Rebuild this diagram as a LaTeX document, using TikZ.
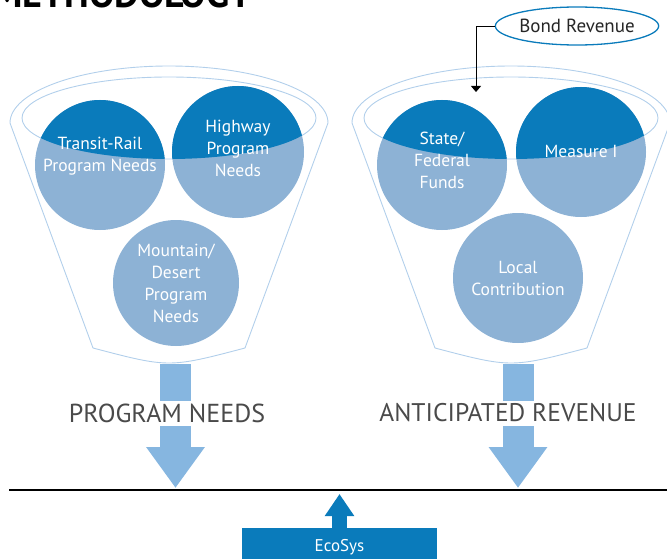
\documentclass[tikz,border=0pt]{standalone}
\usepackage{fontspec}
\setmainfont{PT Sans}
\usetikzlibrary{arrows.meta,shapes.geometric}

\definecolor{deepblue}{HTML}{0A7BBB}
\definecolor{paleblue}{HTML}{8DB2D5}
\definecolor{flowblue}{HTML}{86B6E0}
\definecolor{rimblue}{HTML}{B2CFEB}
\definecolor{tagtext}{HTML}{4A4A4A}

\tikzset{
  rim/.style={draw=rimblue, line width=0.9pt},
  % circle whose upper part sits inside the rim ellipse named #1
  need/.style={circle, fill=paleblue, inner sep=0pt, minimum size=130pt,
    path picture={\fill[deepblue] (#1) ellipse[x radius=147, y radius=41];}},
  needtext/.style={text=white, align=center, inner sep=0pt,
    font=\fontsize{17.5}{22}\selectfont},
  flow/.style={flowblue, line width=31pt, -{Triangle[length=41pt, width=56pt]}},
  tag/.style={fill=white, text=tagtext, inner xsep=1pt, inner ysep=0pt,
    minimum height=25pt, font=\fontsize{26}{26}\selectfont},
}

\begin{document}
\begin{tikzpicture}[x=1pt, y=-1pt]
    \useasboundingbox (0,0) rectangle (667,559);
    \clip (0,0) rectangle (667,559);

    \node[anchor=base west, font=\fontsize{38}{38}\selectfont\bfseries] (title) at (-11,8) {METHODOLOGY};

    \coordinate (lmouth) at (169,118);
    \coordinate (rmouth) at (511,118);

    % the two funnels
    \foreach \cx in {169,511} {
        \draw[rim] (\cx-76,348) -- (\cx-159,123)
            arc[start angle=180, end angle=360, x radius=159, y radius=57]
            -- (\cx+76,348) .. controls (\cx,368) .. cycle;
        \draw[rim] (\cx,118) ellipse[x radius=147, y radius=41];
    }

    % needs
    \node[need=lmouth, label={[needtext, yshift=9pt]center:Transit-Rail\\Program Needs}] (rail) at (100,165) {};
    \node[need=lmouth, minimum size=132pt, label={[needtext, yshift=4pt]center:Highway\\Program\\Needs}] (highway) at (238,152) {};
    \node[need=lmouth, minimum size=126pt, label={[needtext]center:Mountain/\\Desert\\Program\\Needs}] (mountain) at (176,283) {};

    % revenue
    \node[need=rmouth, label={[needtext, yshift=5pt]center:State/\\Federal\\Funds}] (state) at (442,165) {};
    \node[need=rmouth, label={[needtext, yshift=1pt]center:Measure I}] (measure) at (581,152) {};
    \node[need=rmouth, label={[needtext]center:Local\\Contribution}] (local) at (518,278) {};

    \node[ellipse, draw=deepblue, line width=1.3pt, minimum width=157pt, minimum height=38pt,
        inner sep=0pt, font=\fontsize{19}{19}\selectfont, text=black!85] (bond) at (577,26) {Bond Revenue};
    \coordinate (bondin) at (476,92);
    \draw[line width=0.9pt, -{Triangle[length=6pt, width=10pt]}] (bond.west) -| (bondin);

    % flows down to the baseline
    \coordinate (groundL) at (9,490);
    \coordinate (groundR) at (667,490);
    \coordinate (needstop) at (175.5,364);
    \coordinate (needstip) at (175.5,488);
    \coordinate (revtop) at (518,364);
    \coordinate (revtip) at (518,488);

    \draw[flow] (needstop) -- (needstip);
    \draw[flow] (revtop) -- (revtip);
    \node[tag] (needs) at (167,413) {PROGRAM NEEDS};
    \node[tag, font=\fontsize{25.5}{26}\selectfont] (revenue) at (508,413) {ANTICIPATED REVENUE};

    \draw[line width=2pt] (groundL) -- (groundR);

    \node[fill=deepblue, text=white, minimum width=195pt, minimum height=38pt, inner sep=0pt,
        font=\fontsize{17}{17}\selectfont] (ecosys) at (339.5,547) {EcoSys};
    \coordinate (ecotip) at (339.5,494);
    \draw[deepblue, line width=15pt, -{Triangle[length=22pt, width=28pt]}] (ecosys.north) -- (ecotip);

\end{tikzpicture}
\end{document}
